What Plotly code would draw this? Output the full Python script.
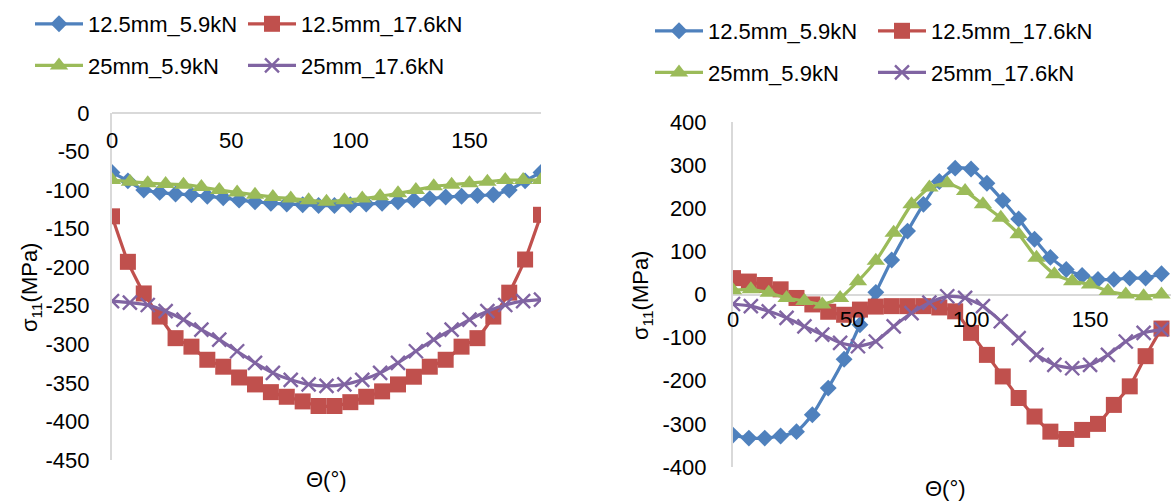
import plotly.graph_objects as go

# Angles (degrees)
theta_125 = [0, 6.67, 13.33, 20, 26.67, 33.33, 40, 46.67, 53.33, 60, 66.67, 73.33, 80, 86.67,
             93.33, 100, 106.67, 113.33, 120, 126.67, 133.33, 140, 146.67, 153.33, 160, 166.67, 173.33, 180]
theta_25 = [0, 7.5, 15, 22.5, 30, 37.5, 45, 52.5, 60, 67.5, 75, 82.5, 90, 97.5, 105, 112.5,
            120, 127.5, 135, 142.5, 150, 157.5, 165, 172.5, 180]

series_names = ["12.5mm_5.9kN", "12.5mm_17.6kN", "25mm_5.9kN", "25mm_17.6kN"]

# Left chart values (MPa)
left_125_59 = [-77, -88, -100, -103, -105, -106, -108, -110, -113, -115, -117, -118, -119, -120,
               -120, -119, -118, -117, -115, -113, -111, -109, -108, -107, -106, -100, -88, -77]
left_125_176 = [-134, -193, -234, -264, -292, -303, -320, -329, -343, -352, -362, -368, -374, -380,
                -380, -375, -368, -361, -352, -342, -329, -320, -303, -292, -264, -233, -190, -132]
left_25_59 = [-87, -89, -91, -92, -93, -96, -100, -103, -106, -109, -111, -113, -115, -113, -111,
              -108, -104, -100, -95, -93, -91, -89, -87, -87, -87]
left_25_176 = [-244, -246, -249, -257, -268, -281, -294, -309, -324, -337, -346, -352, -354, -352,
               -346, -337, -324, -309, -294, -281, -268, -257, -249, -244, -242]

# Right chart values (MPa)
right_125_59 = [-326, -333, -333, -328, -318, -279, -217, -150, -70, 5, 80, 147, 209, 262,
                293, 291, 258, 218, 175, 128, 86, 58, 44, 35, 35, 38, 38, 48]
right_125_176 = [38, 30, 22, 12, -8, -23, -40, -47, -35, -28, -27, -27, -27, -30,
                 -39, -89, -140, -190, -240, -283, -318, -335, -314, -300, -256, -213, -143, -79]
right_25_59 = [10, 12, 4, -8, -15, -23, -8, 31, 78, 143, 209, 248, 258, 240, 209, 178, 140, 85,
               47, 31, 23, 8, 0, -4, 0]
right_25_176 = [-22, -27, -39, -54, -74, -93, -112, -120, -109, -74, -43, -19, -4, -8, -27, -62,
                -101, -140, -163, -171, -163, -140, -109, -89, -81]

x_ticks = [0, 50, 100, 150]
left_y_ticks = [0, -50, -100, -150, -200, -250, -300, -350, -400, -450]
left_y_text = ["0", "-50", "-100", "-150", "-200", "-250", "-300", "-350", "-400", "-450"]
right_y_ticks = [400, 300, 200, 100, 0, -100, -200, -300, -400]
right_y_text = ["400", "300", "200", "100", "0", "-100", "-200", "-300", "-400"]

colors = ["#4F81BD", "#C0504D", "#9BBB59", "#8064A2"]
FONT = "Arial, Liberation Sans, sans-serif"

W, H = 1171, 501


def px_x(p):
    return p / W


def px_y(p):
    return 1 - p / H


fig = go.Figure()

styles = [
    dict(symbol="diamond", size=13, line=dict(width=0)),
    dict(symbol="square", size=16, line=dict(width=0)),
    dict(symbol="triangle-up", size=16, line=dict(width=0)),
    dict(symbol="x-thin", size=14, line=dict(width=2.4, color=colors[3])),
]

left_data = [(theta_125, left_125_59), (theta_125, left_125_176), (theta_25, left_25_59), (theta_25, left_25_176)]
right_data = [(theta_125, right_125_59), (theta_125, right_125_176), (theta_25, right_25_59), (theta_25, right_25_176)]
left_legends = ["legend", "legend2", "legend", "legend2"]
right_legends = ["legend3", "legend4", "legend3", "legend4"]

for i in range(4):
    xs, ys = left_data[i]
    fig.add_trace(go.Scatter(
        x=xs, y=ys, name=series_names[i], mode="lines+markers",
        line=dict(color=colors[i], width=3.2, shape="spline", smoothing=0.5),
        marker=dict(color=colors[i], **styles[i]),
        xaxis="x", yaxis="y", legend=left_legends[i], legendgroup=f"l{i}",
    ))
for i in range(4):
    xs, ys = right_data[i]
    fig.add_trace(go.Scatter(
        x=xs, y=ys, name=series_names[i], mode="lines+markers",
        line=dict(color=colors[i], width=3.2, shape="spline", smoothing=0.5),
        marker=dict(color=colors[i], **styles[i]),
        xaxis="x2", yaxis="y2", legend=right_legends[i], legendgroup=f"r{i}",
    ))

GRID = "#D9D9D9"
tick_font = dict(size=22, color="black", family=FONT)
x_common = dict(showgrid=False, zeroline=False, showline=False, ticks="", automargin=False,
                tickfont=tick_font)
y_common = dict(showgrid=False, zeroline=True, zerolinecolor=GRID, zerolinewidth=2,
                showline=True, linecolor=GRID, linewidth=2, ticks="", automargin=False,
                tickfont=tick_font)

left_ydom = [px_y(460), px_y(113)]
right_ydom = [px_y(467), px_y(122)]

fig.update_layout(
    width=W, height=H, margin=dict(l=0, r=0, t=0, b=0, autoexpand=False),
    paper_bgcolor="white", plot_bgcolor="white",
    font=dict(family=FONT, size=22, color="black"),
    xaxis=dict(domain=[px_x(112), px_x(541)], range=[0, 180], anchor="free",
               position=px_y(125), side="bottom", tickvals=x_ticks, **x_common),
    yaxis=dict(domain=left_ydom, range=[-450, 0], anchor="x", tickvals=left_y_ticks,
               ticktext=left_y_text, ticklabelstandoff=16, **y_common),
    xaxis2=dict(domain=[px_x(733), 1.0], range=[0, 184], anchor="free",
                position=px_y(304), side="bottom", tickvals=x_ticks, **x_common),
    yaxis2=dict(domain=right_ydom, range=[-400, 400], anchor="x2", tickvals=right_y_ticks,
                ticktext=right_y_text, ticklabelstandoff=20, **y_common),
)

legend_common = dict(orientation="v", xanchor="left", yanchor="top", bgcolor="rgba(0,0,0,0)",
                     font=dict(size=22, family=FONT, color="black"), itemwidth=48,
                     traceorder="grouped", tracegroupgap=10)
fig.update_layout(
    legend=dict(x=px_x(30), y=px_y(3), **legend_common),
    legend2=dict(x=px_x(243), y=px_y(3), **legend_common),
    legend3=dict(x=px_x(650), y=px_y(10), **legend_common),
    legend4=dict(x=px_x(873), y=px_y(10), **legend_common),
)

ann_font = dict(size=22, family=FONT, color="black")
fig.add_annotation(text="σ<sub>11</sub>(MPa)", x=px_x(31), y=px_y(288), xref="paper", yref="paper",
                   textangle=-90, showarrow=False, xanchor="center", yanchor="middle", font=ann_font)
fig.add_annotation(text="σ<sub>11</sub>(MPa)", x=px_x(642), y=px_y(296), xref="paper", yref="paper",
                   textangle=-90, showarrow=False, xanchor="center", yanchor="middle", font=ann_font)
fig.add_annotation(text="Θ(°)", x=px_x(326), y=px_y(479), xref="paper", yref="paper",
                   showarrow=False, xanchor="center", yanchor="middle", font=ann_font)
fig.add_annotation(text="Θ(°)", x=px_x(945), y=px_y(488), xref="paper", yref="paper",
                   showarrow=False, xanchor="center", yanchor="middle", font=ann_font)

fig.write_html("out.html", config={"displayModeBar": False},
               post_script="document.body.style.margin='0';document.body.style.overflow='hidden';")
